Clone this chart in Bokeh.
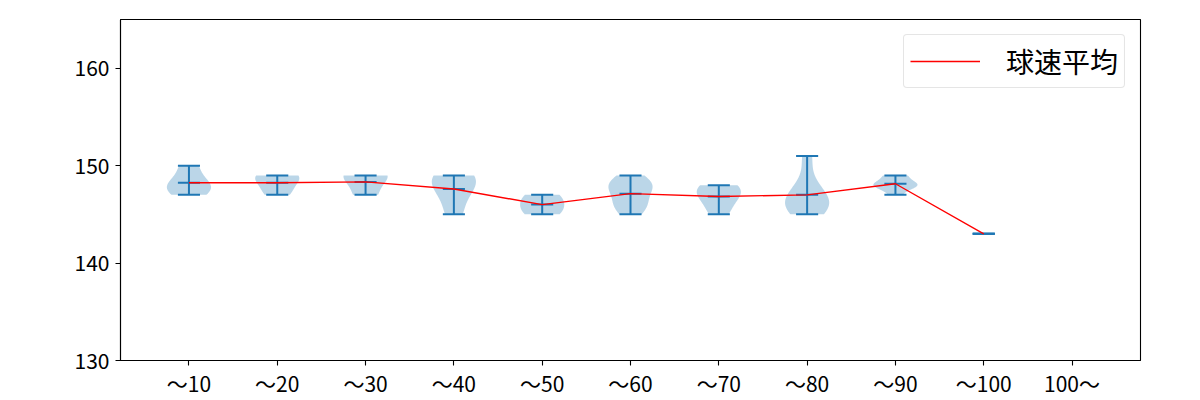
import numpy as np
from bokeh.plotting import figure
from bokeh.models import Range1d, FixedTicker, Legend, LegendItem
from bokeh.embed import file_html
from bokeh.resources import INLINE

# ---- data ----
categories = ["〜10", "〜20", "〜30", "〜40", "〜50", "〜60", "〜70", "〜80", "〜90", "〜100", "100〜"]
speed_10 = [147, 148, 148, 150]
speed_20 = [147, 148, 149, 149]
speed_30 = [147, 149, 149]
speed_40 = [145, 147, 148, 149, 149]
speed_50 = [145, 146, 147]
speed_60 = [145, 146, 148, 148, 149, 147, 146, 148]
speed_70 = [145, 146, 147, 148, 148, 147]
speed_80 = [145, 146, 146, 147, 146, 151, 148]
speed_90 = [147, 148, 148, 148, 149, 148, 149]
speed_100 = [143]
speed_over = []
samples = [speed_10, speed_20, speed_30, speed_40, speed_50, speed_60,
           speed_70, speed_80, speed_90, speed_100, speed_over]
legend_label = "球速平均"

FONT = "Noto Sans CJK JP"
C0 = "#1f77b4"

p = figure(frame_width=1020, frame_height=341, output_backend="svg", toolbar_location=None,
           x_range=Range1d(0.225, 11.775), y_range=Range1d(130, 165))
p.min_border_left = 120
p.min_border_right = 60
p.min_border_top = 19
p.min_border_bottom = 40
p.xgrid.visible = False
p.ygrid.visible = False
p.outline_line_color = "black"
p.outline_line_width = 1.1
p.background_fill_color = "white"
p.border_fill_color = "white"

positions = list(range(1, len(categories) + 1))
width = 0.5


def kde(data, pts):
    d = np.asarray(data, dtype=float)
    n = len(d)
    bw = np.std(d, ddof=1) * n ** (-0.2)
    z = (pts[:, None] - d[None, :]) / bw
    return np.exp(-0.5 * z ** 2).sum(axis=1) / (n * bw * np.sqrt(2 * np.pi))


xs_b, ys_b = [], []
cap_x0, cap_x1, cap_y = [], [], []
bar_x, bar_y0, bar_y1 = [], [], []
mean_x, mean_y = [], []
for pos, data in zip(positions, samples):
    if len(data) == 0:
        continue
    lo, hi = min(data), max(data)
    m = float(np.mean(data))
    if len(data) > 1 and hi > lo:
        pts = np.linspace(lo, hi, 100)
        v = kde(data, pts)
        v = 0.5 * width * v / v.max()
        xs_b.append(list(pos - v) + list((pos + v)[::-1]))
        ys_b.append(list(pts) + list(pts[::-1]))
    for yv in (lo, hi, m):
        cap_x0.append(pos - width * 0.25)
        cap_x1.append(pos + width * 0.25)
        cap_y.append(yv)
    bar_x.append(pos)
    bar_y0.append(lo)
    bar_y1.append(hi)
    mean_x.append(pos)
    mean_y.append(m)

p.patches(xs_b, ys_b, fill_color=C0, fill_alpha=0.3, line_color=None)
p.segment(x0=cap_x0, x1=cap_x1, y0=cap_y, y1=cap_y, line_color=C0, line_width=2)
p.segment(x0=bar_x, x1=bar_x, y0=bar_y0, y1=bar_y1, line_color=C0, line_width=2)
mean_r = p.line(mean_x, mean_y, line_color="red", line_width=1.4)

# axes
p.xaxis.ticker = FixedTicker(ticks=positions)
p.xaxis.major_label_overrides = {pos: lab for pos, lab in zip(positions, categories)}
p.yaxis.ticker = FixedTicker(ticks=[130, 140, 150, 160])
for ax in (p.xaxis, p.yaxis):
    ax.axis_line_color = "black"
    ax.axis_line_width = 1.1
    ax.major_tick_line_color = "black"
    ax.major_tick_line_width = 1.1
    ax.major_tick_in = 0
    ax.major_tick_out = 5
    ax.minor_tick_line_color = None
    ax.major_label_text_font = FONT
    ax.major_label_text_font_size = "21px"
    ax.major_label_text_color = "black"
p.yaxis.major_label_standoff = 6
p.xaxis.major_label_standoff = 2

legend = Legend(items=[LegendItem(label=legend_label, renderers=[mean_r])],
                location="top_right")
legend.label_text_font = FONT
legend.label_text_font_size = "28px"
legend.label_text_color = "black"
legend.glyph_width = 70
legend.label_standoff = 26
legend.padding = 6
legend.margin = 15
legend.border_line_color = "#cccccc"
legend.border_line_width = 1
legend.background_fill_alpha = 0.8
if "border_radius" in Legend.properties():
    legend.border_radius = 4
p.add_layout(legend)

open("out.html", "w").write(file_html(p, INLINE))
